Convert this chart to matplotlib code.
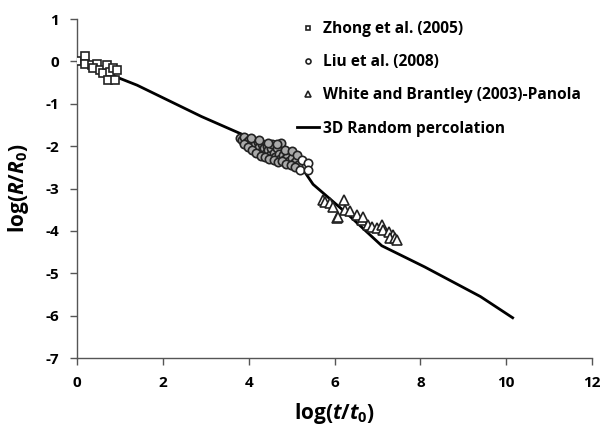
import matplotlib
matplotlib.use("Agg")
import matplotlib.pyplot as plt

plt.rcParams['font.family'] = ['Open Sans', 'DejaVu Sans']
plt.rcParams['mathtext.fontset'] = 'custom'
plt.rcParams['mathtext.rm'] = 'Open Sans:bold'
plt.rcParams['mathtext.it'] = 'Open Sans:bold:italic'
plt.rcParams['mathtext.bf'] = 'Open Sans:bold'

# Zhong et al. (2005)
zhong_x = [0.00, 0.19, 0.19, 0.34, 0.46, 0.38, 0.54, 0.60, 0.69, 0.77, 0.85, 0.93, 0.73, 0.89]
zhong_y = [0.02, 0.14, -0.05, -0.08, -0.06, -0.16, -0.20, -0.28, -0.09, -0.26, -0.15, -0.20, -0.43, -0.43]

# Liu et al. (2008)
liu_x = [3.80, 3.85, 3.90, 3.95, 4.00, 4.02, 4.05, 4.10, 4.12, 4.15, 4.20, 4.22, 4.25, 4.30,
         4.32, 4.35, 4.40, 4.42, 4.45, 4.50, 4.52, 4.55, 4.60, 4.62, 4.65, 4.70, 4.72, 4.75,
         4.80, 4.85, 4.90, 4.95, 5.00, 5.05, 5.10, 5.15,
         3.88, 3.98, 4.08, 4.18, 4.28, 4.38, 4.48, 4.58, 4.68, 4.78, 4.88, 4.98, 5.08,
         4.05, 4.25, 4.45, 4.65, 4.85, 5.02, 5.12]
liu_y = [-1.80, -1.85, -1.78, -1.90, -1.85, -1.95, -2.00, -1.88, -2.05, -1.95, -2.10, -1.90,
         -2.02, -2.12, -1.95, -2.05, -2.15, -2.00, -2.10, -2.20, -2.05, -1.95, -2.15, -2.25,
         -2.05, -2.18, -2.30, -1.92, -2.20, -2.30, -2.25, -2.35, -2.28, -2.40, -2.35, -2.45,
         -1.95, -2.02, -2.10, -2.15, -2.22, -2.25, -2.30, -2.32, -2.38, -2.35, -2.42, -2.45, -2.50,
         -1.80, -1.86, -1.92, -1.96, -2.08, -2.12, -2.20]
liu_end_x = [5.24, 5.38, 5.20, 5.38]
liu_end_y = [-2.33, -2.40, -2.56, -2.56]

# White and Brantley (2003)-Panola
white_x = [5.74, 5.78, 5.90, 5.97, 6.05, 6.09, 6.21, 6.25, 6.36, 6.52, 6.64, 6.67, 6.79,
           6.87, 6.99, 7.10, 7.14, 7.26, 7.37, 7.30, 7.41, 7.46]
white_y = [-3.27, -3.31, -3.35, -3.43, -3.70, -3.66, -3.27, -3.50, -3.54, -3.62, -3.74,
           -3.66, -3.86, -3.90, -3.94, -3.86, -3.98, -4.02, -4.09, -4.17, -4.17, -4.21]

# 3D Random percolation
perc_x = [0.0, 1.4, 2.9, 3.8, 4.5, 5.0, 5.2, 5.5, 6.3, 7.1, 8.1, 9.4, 10.15]
perc_y = [0.0, -0.56, -1.30, -1.70, -2.00, -2.25, -2.45, -2.90, -3.60, -4.35, -4.85, -5.55, -6.05]

xticks = [0, 2, 4, 6, 8, 10, 12]
yticks = [1, 0, -1, -2, -3, -4, -5, -6, -7]

fig = plt.figure(figsize=(6.11, 4.29), dpi=100)
ax = fig.add_axes([0.126, 0.1655, 0.843, 0.790])

ax.plot(perc_x, perc_y, color='black', lw=2.0, zorder=2, label='3D Random percolation')
ax.plot(zhong_x, zhong_y, ls='none', marker='s', ms=5.5, mfc='white', mec='#222222',
        mew=1.2, zorder=3, label='Zhong et al. (2005)')
ax.plot(liu_x, liu_y, ls='none', marker='o', ms=6, mfc='#aaaaaa', mec='#222222',
        mew=1.2, zorder=3, label='Liu et al. (2008)')
ax.plot(liu_end_x, liu_end_y, ls='none', marker='o', ms=6, mfc='white', mec='#222222',
        mew=1.2, zorder=3)
ax.plot(white_x, white_y, ls='none', marker='^', ms=6.5, mfc='white', mec='#222222',
        mew=1.2, zorder=3, label='White and Brantley (2003)-Panola')

ax.set_xlim(0, 12)
ax.set_ylim(-7, 1)
ax.set_xticks(xticks)
ax.set_yticks(yticks)
ax.set_xticklabels([str(v) for v in xticks], fontweight='bold', fontsize=11)
ax.set_yticklabels([str(v) for v in yticks], fontweight='bold', fontsize=11)
ax.tick_params(direction='out', length=5, width=1, color='#555555', pad=8)

for s in ['top', 'right']:
    ax.spines[s].set_visible(False)
for s in ['left', 'bottom']:
    ax.spines[s].set_color('#555555')
    ax.spines[s].set_linewidth(1)

ax.set_xlabel(r'log($t$/$t_\mathrm{0}$)', fontsize=15, fontweight='bold', labelpad=8)
ax.set_ylabel(r'log($R$/$R_\mathrm{0}$)', fontsize=15, fontweight='bold', labelpad=10)

handles, labels = ax.get_legend_handles_labels()
order = [1, 2, 3, 0]
leg = ax.legend([handles[i] for i in order], [labels[i] for i in order],
                loc='upper left', bbox_to_anchor=(0.40, 1.035), frameon=False,
                prop={'weight': 'bold', 'size': 11.2}, markerscale=0.6,
                handlelength=1.4, handletextpad=0.3, labelspacing=1.1)
for h in leg.legend_handles[:3]:
    h.set_markerfacecolor('white')

fig.savefig('out.png', dpi=100)
